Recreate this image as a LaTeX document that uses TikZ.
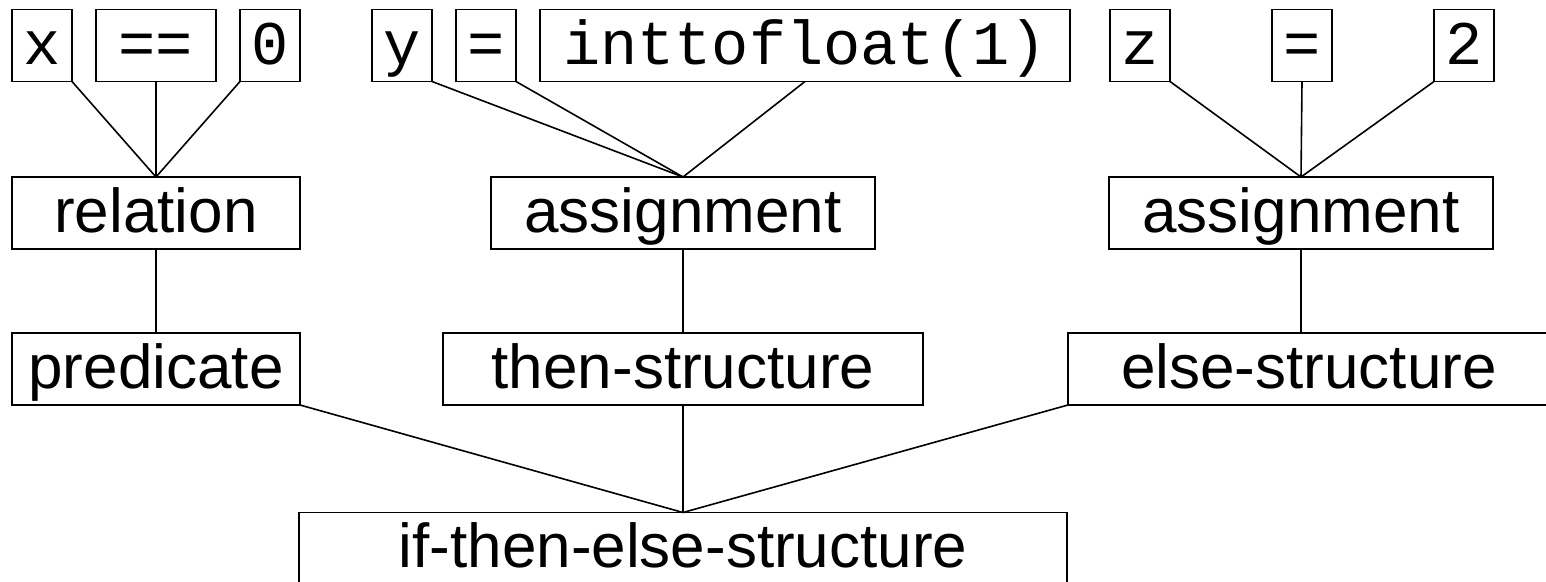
\documentclass[tikz,border=0pt]{standalone}
\usepackage{fontspec}
\setmainfont{Liberation Sans}
\setmonofont{Liberation Mono}

\begin{document}
\begin{tikzpicture}[x=0.5pt, y=-0.5pt, inner sep=0pt, outer sep=0pt, line width=0.8pt,
  box/.style={draw, rectangle, minimum height=36pt, text height=23pt, text depth=3.7pt,
    font=\fontsize{31}{31}\selectfont},
  tok/.style={box, font=\fontsize{31}{31}\selectfont\ttfamily}]
  \useasboundingbox (0, 0) rectangle (1546, 582);

  \node[tok, minimum width=30pt] (xv) at (42, 45.5){x};
  \node[tok, minimum width=60pt] (eqop) at (156, 45.5){==};
  \node[tok, minimum width=30pt] (zero) at (270, 45.5){0};
  \node[tok, minimum width=30pt] (yv) at (402, 45.5){y};
  \node[tok, minimum width=30pt] (setop) at (486, 45.5){=};
  \node[tok, minimum width=265pt] (conv) at (805, 45.5){inttofloat(1)};
  \node[tok, minimum width=30pt] (zv) at (1140, 45.5){z};
  \node[tok, minimum width=30pt] (setop2) at (1302, 45.5){=};
  \node[tok, minimum width=30pt] (two) at (1464, 45.5){2};

  \node[box, minimum width=144pt] (rel) at (156, 213){relation};
  \node[box, minimum width=192pt] (asg) at (683, 213){assignment};
  \node[box, minimum width=192pt] (asg2) at (1301, 213){assignment};

  \node[box, minimum width=144pt] (pred) at (156, 369){predicate};
  \node[box, minimum width=240pt] (then) at (683, 369){then-structure};
  \node[box, minimum width=241pt] (else) at (1309, 369){else-structure};

  \node[box, minimum width=384pt] (ite) at (683, 548.5){if-then-else-structure};

  \draw (xv.south east) -- (rel.north);
  \draw (eqop.south) -- (rel.north);
  \draw (zero.south west) -- (rel.north);
  \draw (yv.south east) -- (asg.north);
  \draw (setop.south east) -- (asg.north);
  \draw (conv.south) -- (asg.north);
  \draw (zv.south east) -- (asg2.north);
  \draw (setop2.south) -- (asg2.north);
  \draw (two.south west) -- (asg2.north);

  \draw (rel.south) -- (pred.north);
  \draw (asg.south) -- (then.north);
  \draw (asg2.south) -- (asg2.south |- else.north);

  \draw (pred.south east) -- (ite.north);
  \draw (then.south) -- (ite.north);
  \draw (else.south west) -- (ite.north);
\end{tikzpicture}
\end{document}
